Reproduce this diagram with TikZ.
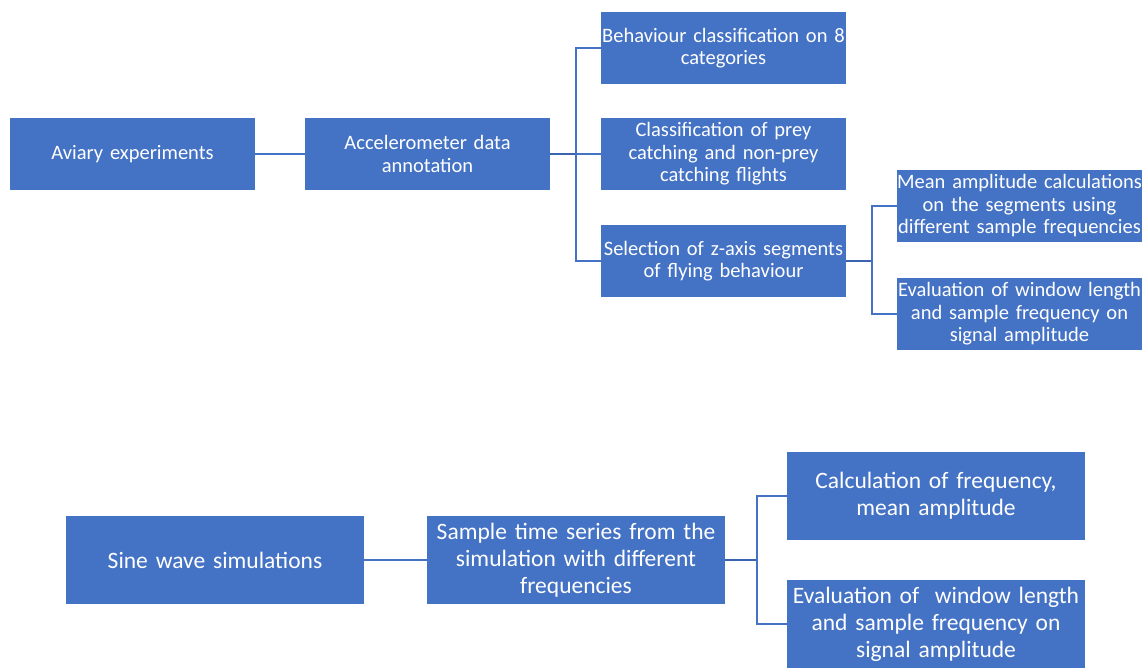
\documentclass[tikz,border=0pt]{standalone}
\usepackage{fontspec}
\setmainfont{Carlito}
\usetikzlibrary{calc}
\definecolor{boxblue}{HTML}{4472C4}
\definecolor{lineblue}{HTML}{3A64B0}
\begin{document}
\begin{tikzpicture}[x=1pt,y=-1pt,
    topbox/.style={fill=boxblue,text=white,inner sep=0pt,align=center,
      text width=245pt,minimum height=72pt,font=\fontsize{20.5}{22.5}\selectfont},
    lowbox/.style={fill=boxblue,text=white,inner sep=0pt,align=center,
      text width=298pt,minimum height=88pt,font=\fontsize{23.5}{27}\selectfont},
    link/.style={draw=boxblue,line width=1.5pt},
    stub/.style={draw=lineblue,line width=2.5pt}]
  \useasboundingbox (0,0) rectangle (1142,668);
  % accelerometer branch
  \node[topbox](aviary)at(132.5,154){Aviary experiments};
  \node[topbox](accel)at(427.5,154){Accelerometer data\\annotation};
  \node[topbox](behav)at(723.5,48){Behaviour classification on 8\\categories};
  \node[topbox](prey)at(723.5,154){Classification of prey\\catching and non-prey\\catching flights};
  \node[topbox](zaxis)at(723.5,261){Selection of z-axis segments\\of flying behaviour};
  \node[topbox](meanamp)at(1019.5,206){Mean amplitude calculations\\on the segments using\\different sample frequencies};
  \node[topbox](evaltop)at(1019.5,314){Evaluation of window length\\and sample frequency on\\signal amplitude};
  \coordinate (forka) at (576,154);
  \coordinate (forkb) at (872,261);
  \draw[link] (aviary)--(accel);
  \draw[stub] (accel.east)--(forka);
  \draw[link] (behav.west)-|(forka)|-(zaxis.west);
  \draw[link] (forka)--(prey.west);
  \draw[stub] (zaxis.east)--(forkb);
  \draw[link] (meanamp.west)-|(forkb)|-(evaltop.west);
  % simulation branch
  \node[lowbox](sine)at(215,560){Sine wave simulations};
  \node[lowbox](sample)at(576,560){Sample time series from the\\simulation with different\\frequencies};
  \node[lowbox](calc)at(936,496){Calculation of frequency,\\mean amplitude};
  \node[lowbox](evalbot)at(936,624){Evaluation of~ window length\\and sample frequency on\\signal amplitude};
  \coordinate (forkc) at (757,560);
  \draw[link] (sine)--(sample);
  \draw[stub] (sample.east)--(forkc);
  \draw[link] (calc.west)-|(forkc)|-(evalbot.west);
\end{tikzpicture}
\end{document}
